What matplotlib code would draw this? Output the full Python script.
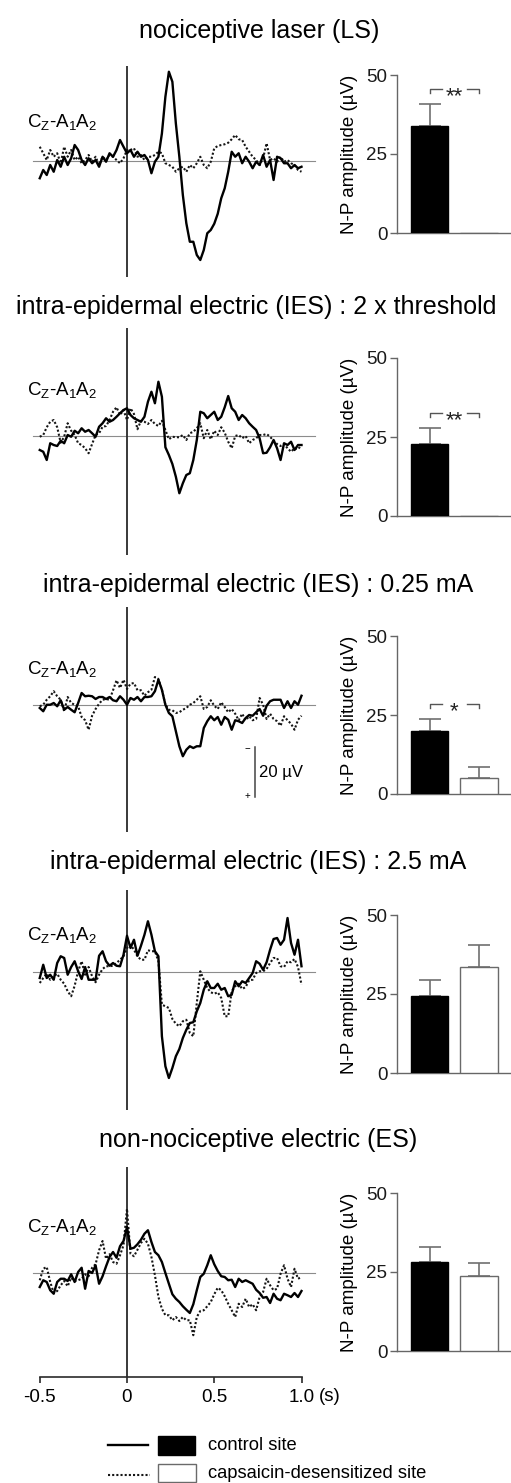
import numpy as np
import matplotlib
matplotlib.use("Agg")
import matplotlib.pyplot as plt
from matplotlib.patches import Rectangle

plt.rcParams['font.family'] = ['Liberation Sans', 'DejaVu Sans']
plt.rcParams['mathtext.fontset'] = 'custom'
plt.rcParams['mathtext.rm'] = 'Liberation Sans'
plt.rcParams['mathtext.it'] = 'Liberation Sans:italic'

# Axe des temps commun (ms) : -500 ms à 1000 ms, pas de 20 ms
temps_ms = np.arange(-500, 1001, 20)

titres = [
    "nociceptive laser (LS)",
    "intra-epidermal electric (IES) : 2 x threshold",
    "intra-epidermal electric (IES) : 0.25 mA",
    "intra-epidermal electric (IES) : 2.5 mA",
    "non-nociceptive electric (ES)",
]

# Potentiels évoqués (µV, négatif vers le haut) : site contrôle / site désensibilisé
ls_controle = [6.9, 3.6, 5.6, 1.6, 4.3, -0.4, 2.3, -1.7, 1.6, -1.1, -6.4, -4.4, -0.4, 1.6, -1.1, 0.9,
               -0.4, 2.3, -1.7, 0.3, -3.1, -1.7, -4.4, -8.4, -5.7, -3.1,
               -4.4, -1.7, -3.7, -1.7, -2.4, -0.4, 4.9, 0.3, -1.7, -11.0, -25.7, -35.7, -31.7, -15.0,
               -1.7, 13.6, 24.9, 32.3, 32.3, 37.6, 39.6, 35.6, 28.9, 27.6, 25.1, 21.1, 14.9, 10.9,
               4.3, -3.7, -1.7, -3.1, 0.9, -1.7, 0.3, 2.9, 0.3, 1.6, -2.4, 2.3, -0.4, 7.6, -1.7,
               -1.1, 0.9, 0.9, 2.9, 1.6, 2.9, 2.3]
ls_capsaicine = [-5.7, -3.1, -0.4, -4.4, -1.7, -3.1, 0.9, -5.7, -1.7, -4.4, -0.4, -1.7, 0.9, -0.4, -2.4,
                 0.3, -1.7, 1.6, -1.7, -0.4, -2.4, -1.7, -0.4, 0.9, -1.1, -4.4,
                 -4.4, -5.1, -1.7, -2.4, -0.4, -1.7, -1.7, -2.4, -3.7, -3.1, 0.9, 1.6, 2.3, 4.3, 2.9,
                 2.3, 4.3, 1.6, 2.9, 0.9, -1.7, 1.6, 2.9, 0.3, -5.1, -6.0, -6.4, -6.7, -7.3, -8.7,
                 -10.4, -8.7, -8.4, -5.7, -3.7, -1.7, -0.4, 1.6, -1.1, -7.1, -0.4, -1.1, 0.3, -1.7,
                 0.3, -0.4, 0.9, 1.6, 3.6, 4.3]

ies2_controle = [5.6, 6.3, 9.6, 2.9, 3.6, 4.0, 1.9, 2.9, -0.4, 0.3, -2.1, -1.1, -3.1, -1.7, -2.4, -1.1,
                 0.3, -3.7, -5.1, -7.1, -5.7, -6.4, -7.7, -9.1, -10.4, -11.1,
                 -8.4, -7.1, -6.4, -5.7, -7.7, -13.7, -17.7, -13.1, -21.7, -15.7, 4.5, 7.6, 11.2, 16.3,
                 22.9, 18.9, 15.6, 14.9, 9.6, 1.6, -9.7, -9.1, -7.1, -8.4, -9.7, -6.4, -7.7, -11.5,
                 -16.0, -11.1, -9.7, -6.4, -8.4, -7.1, -5.1, -3.7, -2.4, 0.9, 6.9, 6.7, 4.5, 1.6, 4.9,
                 9.6, 2.9, 3.6, 2.3, 5.6, 3.6, 3.6]
ies2_capsaicine = [0.3, -0.4, -3.5, -5.7, -6.4, -3.5, 2.7, 0.3, -5.1, -2.1, -0.4, 2.9, 3.6, 4.9, 6.9,
                   3.2, -0.4, -1.1, -3.7, -4.0, -6.4, -9.7, -11.5, -8.4, -10.4, -6.4,
                   -11.1, -8.8, -2.7, -6.1, -5.7, -4.8, -6.4, -4.8, -4.0, -6.1, -2.4, 1.3, 0.3, 0.5,
                   0.5, -0.4, 1.6, -1.1, -1.7, -3.1, -5.1, 0.9, -2.4, 1.3, -2.1, -0.4, -3.5, -1.3,
                   2.3, 4.9, 0.0, -0.4, 0.9, 0.0, 2.9, 1.6, 0.9, -0.4, -0.4, -0.8, 0.3, 1.9, 3.2, 4.0,
                   3.2, 4.9, 6.3, 4.9, 5.3, 3.6]

ies025_controle = [1.2, 2.5, -0.1, -0.1, -0.8, 0.5, -1.9, 1.9, 0.8, 1.9, 2.9, -0.8, -4.8, -3.5, -3.7,
                   -3.5, -2.4, -3.2, -3.2, -2.4, -3.2, -1.9, -1.5, -3.5, -2.1, -0.1,
                   -2.8, -2.1, -3.2, -1.5, -3.2, -3.2, -3.5, -5.5, -10.1, -6.1, -0.1, 3.2, 4.5, 10.5,
                   16.5, 20.5, 17.9, 16.5, 17.2, 16.5, 16.5, 9.2, 6.5, 4.5, 6.1, 4.8, 7.9, 4.8, 5.9,
                   9.9, 6.1, 6.5, 7.2, 5.2, 4.0, 4.3, 2.9, 1.6, 4.3, 0.3, -1.5, -2.1, -2.1, -2.1, 1.2,
                   -1.5, 1.2, -1.5, -0.1, -3.7]
ies025_capsaicine = [0.5, -0.1, -2.1, -3.5, -5.5, -3.5, -2.1, 2.5, -3.2, -0.8, -0.1, 0.5, 4.8, 6.1, 9.9,
                     4.3, 1.6, -0.5, -2.1, -2.4, -2.1, -5.9, -9.9, -6.8, -10.1, -6.4,
                     -8.5, -8.8, -5.9, -5.9, -3.7, -5.1, -6.1, -11.2, -10.4, -6.1, -0.1, 1.9, 2.1, 3.2,
                     2.9, 1.9, 1.2, -0.1, -0.8, -2.1, -3.5, 1.6, 0.8, -1.9, 0.3, 1.6, -1.1, 0.8, 2.9,
                     1.6, 3.5, 6.1, 3.5, 6.1, 4.5, 6.1, 5.6, -2.8, -0.1, 5.6, 3.5, 5.6, 6.5, 8.3, 4.5,
                     6.1, 7.5, 9.9, 5.9, 4.3]

ies25_controle = [2.4, -2.9, 2.4, 1.1, 3.1, -3.6, -6.3, -5.6, 1.1, -2.0, -4.3, -0.3, 2.8, -2.0, 3.1,
                  3.1, 3.1, -6.5, -8.3, -4.3, -2.5, -3.6, -2.5, -2.3, -6.9, -14.5,
                  -9.6, -12.9, -6.5, -10.5, -14.9, -20.3, -14.9, -8.3, -6.3, 25.7, 37.7, 42.4, 38.4,
                  33.7, 30.8, 26.4, 23.1, 20.4, 20.1, 15.7, 12.4, 7.1, 3.7, 6.4, 6.4, 4.7, 7.1, 6.4,
                  9.7, 9.1, 3.7, 5.7, 3.7, 4.4, 2.4, 0.4, -4.3, -3.3, -0.9, -3.9, -8.9, -13.2, -13.6,
                  -10.9, -12.9, -21.6, -11.6, -6.9, -12.9, -2.3]
ies25_capsaicine = [4.4, 2.4, 0.7, 3.1, 1.7, 0.7, 3.1, 4.7, 7.7, 9.7, 5.5, -0.3, -4.3, 1.1, -2.0, 1.7,
                    4.1, 1.1, -1.2, -2.3, -2.3, -2.5, -3.6, -4.9, -6.3, -9.6,
                    -10.9, -8.9, -6.3, -4.9, -4.9, -8.7, -8.3, -8.3, -4.3, 13.1, 13.7, 14.4, 18.8,
                    20.7, 21.7, 19.7, 19.1, 24.4, 25.7, 12.4, -0.3, 3.1, 6.4, 8.1, 8.7, 8.1, 10.4,
                    17.7, 17.7, 7.7, 5.7, 4.7, 6.8, 6.0, 3.3, 3.1, 0.4, -0.3, -0.3, -1.2, -3.6, -5.6,
                    -5.6, -2.3, -2.0, -4.3, -3.9, -5.2, -2.0, 5.1]

es_controle = [5.6, 2.9, 3.6, 6.9, 8.3, 3.6, 2.3, 2.3, 3.2, 0.5, 3.6, -0.4, -2.1, 6.3, -0.8, 0.0,
               -3.1, 4.3, 1.3, -2.7, -6.4, -8.4, -6.1, -10.7, -12.8, -18.4,
               -9.7, -10.1, -11.5, -13.3, -15.7, -17.1, -12.4, -8.4, -7.1, -4.4, 0.0, 4.3, 8.5, 10.3,
               11.6, 13.3, 14.7, 16.0, 12.5, 6.9, 1.6, 0.3, -3.1, -7.1, -3.5, -0.8, 1.3, 1.6, 2.9,
               2.7, 5.6, 2.3, 3.6, 2.9, 3.6, 4.3, 6.7, 8.0, 9.9, 9.6, 12.0, 8.3, 10.3, 10.9, 8.3,
               8.9, 9.6, 8.0, 9.6, 7.2]
es_capsaicine = [2.9, -1.7, -2.4, 3.6, 8.0, 7.2, 4.9, 3.2, 5.3, 1.9, 3.2, 2.9, 2.3, 0.5, 1.3, -2.1,
                 -3.5, -9.1, -12.8, -5.7, -7.5, -4.4, -3.7, -7.1, -11.1, -25.7,
                 -7.7, -6.7, -9.3, -12.0, -13.7, -11.7, -6.4, 0.9, 9.6, 14.3, 16.9, 16.9, 18.9, 17.6,
                 19.2, 17.6, 18.9, 18.9, 24.9, 17.6, 15.2, 14.9, 13.3, 11.6, 8.5, 5.9, 6.9, 9.3,
                 12.3, 14.9, 17.6, 12.3, 13.6, 10.3, 13.6, 12.5, 14.9, 9.6, 7.6, 2.3, 4.9, 6.9, 6.3,
                 0.3, -3.1, 2.3, 5.6, -1.7, 2.3, 1.6]

traces_controle = [ls_controle, ies2_controle, ies025_controle, ies25_controle, es_controle]
traces_capsaicine = [ls_capsaicine, ies2_capsaicine, ies025_capsaicine, ies25_capsaicine, es_capsaicine]

# Amplitudes N-P moyennes (µV) et erreurs (SEM)
np_controle = [33.9, 22.8, 20.0, 24.5, 28.2]
np_controle_err = [6.9, 5.0, 3.7, 4.8, 4.7]
np_capsaicine = [0.0, 0.0, 5.0, 33.4, 23.7]
np_capsaicine_err = [0.0, 0.0, 3.5, 7.0, 4.1]
significativite = ["**", "**", "*", "", ""]
hauteur_crochet = [45.5, 32.6, 28.5, 0, 0]

# Mise en page (pixels dans la figure 511 x 1483)
L, H = 511, 1483
titre_y = [31, 307, 585, 862, 1140]
titre_x = [259, 256, 258, 258, 258]
onde_haut = [66, 328, 607, 890, 1167]
onde_bas = [277, 555, 832, 1110, 1377]
onde_base = [161, 436, 705, 972, 1273]
elec_y = [122, 390, 669, 935, 1227]
barre_zero = [233, 516, 794, 1073, 1351]
px_par_uv = 2.5
px_par_s = 174.5
x_zero = 127

t = temps_ms / 1000.0
fig = plt.figure(figsize=(L / 100, H / 100), dpi=100)

for i in range(5):
    # --- potentiels évoqués ---
    x0, x1 = -0.6, 1.15
    gauche = x_zero + x0 * px_par_s
    largeur = (x1 - x0) * px_par_s
    ax = fig.add_axes([gauche / L, 1 - onde_bas[i] / H, largeur / L, (onde_bas[i] - onde_haut[i]) / H])
    ax.plot([-0.54, 1.075], [0, 0], color='#8c8c8c', lw=0.8)
    ax.axvline(0, color='#2a2a2a', lw=1.3)
    ax.plot(t, traces_capsaicine[i], color='#151515', lw=1.5, ls=(0, (1, 1)))
    ax.plot(t, traces_controle[i], color='black', lw=1.7)
    ax.set_xlim(x0, x1)
    ax.set_ylim((onde_bas[i] - onde_base[i]) / px_par_uv, (onde_haut[i] - onde_base[i]) / px_par_uv)
    for s in ax.spines.values():
        s.set_visible(False)
    ax.set_yticks([])
    if i == 4:
        ax.spines['bottom'].set_visible(True)
        ax.spines['bottom'].set_bounds(-0.5, 1.0)
        ax.spines['bottom'].set_color('#2a2a2a')
        ax.spines['bottom'].set_linewidth(1.2)
        ax.set_xticks([-0.5, 0, 0.5, 1.0])
        ax.set_xticklabels(['-0.5', '0', '0.5', '1.0'])
        ax.tick_params(axis='x', length=4.5, width=1.2, color='#2a2a2a', labelsize=13.5, pad=4)
        ax.text(1.163, -0.095, '(s)', transform=ax.get_xaxis_transform(), ha='center', va='center',
                fontsize=13.5, clip_on=False)
    else:
        ax.set_xticks([])
    if i == 2:
        # barre d'échelle 20 µV
        ax.plot([0.733, 0.733], [17, 37], color='#444444', lw=1.1)
        ax.text(0.688, 17.5, '\u2212', ha='center', va='center', fontsize=7)
        ax.text(0.688, 36.5, '+', ha='center', va='center', fontsize=7)
        ax.text(0.758, 27, '20 \u00b5V', ha='left', va='center', fontsize=12)

    fig.text(27 / L, 1 - elec_y[i] / H, r'C$_\mathrm{Z}$-A$_1$A$_2$', ha='left', va='center', fontsize=13.5)
    fig.text(titre_x[i] / L, 1 - titre_y[i] / H, titres[i], ha='center', va='center', fontsize=18)

    # --- histogramme N-P ---
    bx = fig.add_axes([397 / L, 1 - barre_zero[i] / H, 114 / L, 158 / H])
    bx.bar([0, 1], [np_controle[i], np_capsaicine[i]], width=0.75,
           color=['black', 'white'], edgecolor=['black', '#6a6a6a'], lw=1.0, zorder=3)
    for x, m, e in [(0, np_controle[i], np_controle_err[i]), (1, np_capsaicine[i], np_capsaicine_err[i])]:
        if e > 0:
            bx.errorbar([x], [m], yerr=[[0], [e]], fmt='none', ecolor='#707070',
                        elinewidth=1.2, capsize=8, capthick=1.2, zorder=2)
    if significativite[i]:
        h = hauteur_crochet[i]
        bx.plot([0, 0, 0.25], [h - 1.3, h, h], color='#555555', lw=1.0, clip_on=False)
        bx.plot([0.75, 1, 1], [h, h, h - 1.3], color='#555555', lw=1.0, clip_on=False)
        bx.annotate(significativite[i], (0.5, h), xytext=(0, -0.6 * 16), textcoords='offset points',
                    ha='center', va='baseline', fontsize=16, color='#222222')
    bx.set_xlim(-0.657, 1.646)
    bx.set_ylim(0, 50)
    bx.set_yticks([0, 25, 50])
    bx.set_xticks([])
    bx.spines['top'].set_visible(False)
    bx.spines['right'].set_visible(False)
    for c in ['left', 'bottom']:
        bx.spines[c].set_color('#666666')
        bx.spines[c].set_linewidth(1.0)
    bx.tick_params(axis='y', length=5, width=1.0, color='#666666', labelsize=13.5, pad=2,
                   labelcolor='#1a1a1a')
    bx.patch.set_alpha(0)
    bx.text(-0.42, 0.5, 'N-P amplitude (\u00b5V)', transform=bx.transAxes, rotation=90,
            ha='center', va='center', fontsize=13.5)

# --- légende ---
lg = fig.add_axes([0, 0, 1, 60 / H])
lg.set_xlim(0, L)
lg.set_ylim(H, H - 60)
lg.axis('off')
lg.plot([108, 148], [1445, 1445], color='black', lw=1.7)
lg.add_patch(Rectangle((158, 1436), 37, 19, facecolor='black', edgecolor='black', lw=1))
lg.text(208, 1445, 'control site', ha='left', va='center', fontsize=13.2)
lg.plot([108, 150], [1475, 1475], color='#151515', lw=1.5, ls=(0, (1, 1)))
lg.add_patch(Rectangle((158, 1464), 38, 18, facecolor='white', edgecolor='#6a6a6a', lw=1))
lg.text(208, 1474, 'capsaicin-desensitized site', ha='left', va='center', fontsize=13.2)

fig.savefig('out.png', dpi=100)
